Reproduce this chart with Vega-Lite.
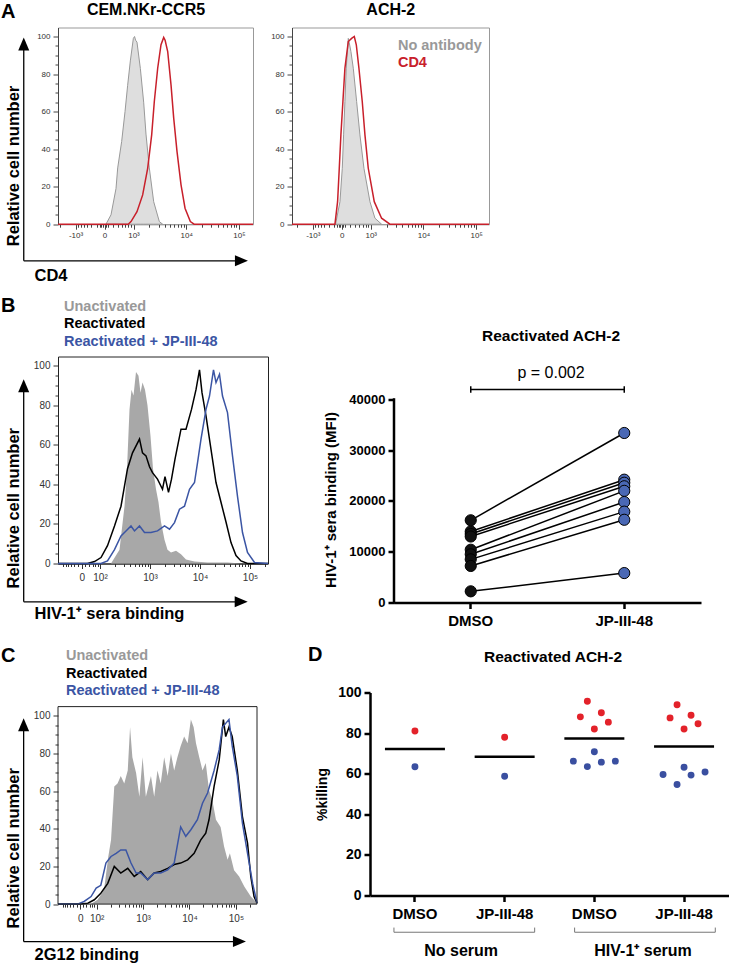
{
  "$schema": "https://vega.github.io/schema/vega-lite/v6.json",
  "padding": {"left": 0, "top": 0.5, "right": 0, "bottom": 0},
  "config": {
    "font": "Liberation Sans",
    "view": {"stroke": null},
    "axis": {"grid": false}
  },
  "datasets": {
    "a1_neg": [{"u":2.478,"n":0},{"u":2.573,"n":5},{"u":2.668,"n":19},{"u":2.70,"n":30},{"u":2.775,"n":44},{"u":2.839,"n":60},{"u":2.889,"n":74},{"u":2.94,"n":87},{"u":2.997,"n":99},{"u":3.02,"n":100},{"u":3.04,"n":98},{"u":3.066,"n":97},{"u":3.13,"n":83},{"u":3.193,"n":65},{"u":3.237,"n":48},{"u":3.30,"n":30},{"u":3.383,"n":12},{"u":3.49,"n":1.4},{"u":3.553,"n":0}],
    "a1_cd4": [{"u":1.567,"n":0},{"u":2.90,"n":0},{"u":2.953,"n":1.4},{"u":3.066,"n":6.7},{"u":3.174,"n":15.6},{"u":3.269,"n":29.8},{"u":3.345,"n":47.6},{"u":3.395,"n":65.4},{"u":3.459,"n":83.1},{"u":3.522,"n":95.6},{"u":3.573,"n":99.5},{"u":3.60,"n":98},{"u":3.649,"n":92},{"u":3.712,"n":74.2},{"u":3.763,"n":56.5},{"u":3.826,"n":38.7},{"u":3.902,"n":21},{"u":3.978,"n":8.5},{"u":4.079,"n":1.4},{"u":4.15,"n":0},{"u":5.268,"n":0}],
    "a2_neg": [{"u":2.333,"n":0},{"u":2.416,"n":12},{"u":2.46,"n":29.8},{"u":2.485,"n":47.6},{"u":2.51,"n":65.4},{"u":2.535,"n":83.1},{"u":2.574,"n":99},{"u":2.59,"n":97},{"u":2.624,"n":92},{"u":2.669,"n":83.1},{"u":2.732,"n":65.4},{"u":2.795,"n":47.6},{"u":2.871,"n":29.8},{"u":2.985,"n":12},{"u":3.08,"n":3.2},{"u":3.206,"n":0}],
    "a2_cd4": [{"u":1.506,"n":0},{"u":2.321,"n":0},{"u":2.371,"n":12},{"u":2.403,"n":29.8},{"u":2.434,"n":47.6},{"u":2.472,"n":65.4},{"u":2.51,"n":83.1},{"u":2.574,"n":97.3},{"u":2.637,"n":99},{"u":2.688,"n":100},{"u":2.726,"n":95.6},{"u":2.776,"n":83.1},{"u":2.839,"n":65.4},{"u":2.89,"n":47.6},{"u":2.953,"n":29.8},{"u":3.067,"n":12},{"u":3.206,"n":3.2},{"u":3.364,"n":0},{"u":5.244,"n":0}],
    "b_unact": [{"u":2.22,"n":0},{"u":2.39,"n":7},{"u":2.49,"n":29},{"u":2.54,"n":48},{"u":2.59,"n":78},{"u":2.63,"n":88},{"u":2.67,"n":85},{"u":2.72,"n":97},{"u":2.77,"n":95},{"u":2.81,"n":86.5},{"u":2.85,"n":91.6},{"u":2.90,"n":88},{"u":2.95,"n":80},{"u":3.01,"n":64.6},{"u":3.06,"n":48},{"u":3.12,"n":37.6},{"u":3.17,"n":31},{"u":3.22,"n":21},{"u":3.29,"n":12},{"u":3.35,"n":7},{"u":3.42,"n":5.6},{"u":3.52,"n":6.4},{"u":3.62,"n":4.7},{"u":3.72,"n":2},{"u":3.89,"n":1},{"u":4.15,"n":0.5},{"u":4.55,"n":0.5},{"u":4.82,"n":0}],
    "b_react": [{"u":1.16,"n":0},{"u":1.75,"n":0},{"u":1.89,"n":1},{"u":2.02,"n":3},{"u":2.15,"n":9},{"u":2.29,"n":19},{"u":2.42,"n":29},{"u":2.55,"n":48},{"u":2.65,"n":56},{"u":2.79,"n":63},{"u":2.85,"n":56},{"u":2.92,"n":54.5},{"u":2.99,"n":49},{"u":3.05,"n":46},{"u":3.15,"n":42.7},{"u":3.25,"n":37.6},{"u":3.30,"n":44},{"u":3.37,"n":36},{"u":3.43,"n":42.7},{"u":3.50,"n":52.8},{"u":3.62,"n":68},{"u":3.72,"n":68},{"u":3.83,"n":78},{"u":3.92,"n":88},{"u":3.99,"n":98},{"u":4.04,"n":86.5},{"u":4.12,"n":74.7},{"u":4.22,"n":57.8},{"u":4.32,"n":41},{"u":4.42,"n":31},{"u":4.52,"n":21},{"u":4.62,"n":10.6},{"u":4.72,"n":4},{"u":4.82,"n":1.3},{"u":4.95,"n":0},{"u":5.36,"n":0}],
    "b_jp": [{"u":1.16,"n":0},{"u":2.02,"n":0},{"u":2.15,"n":1.3},{"u":2.29,"n":7},{"u":2.42,"n":14},{"u":2.52,"n":16.5},{"u":2.62,"n":19},{"u":2.69,"n":16.5},{"u":2.79,"n":19},{"u":2.89,"n":15.7},{"u":3.02,"n":15.7},{"u":3.15,"n":16.5},{"u":3.29,"n":19},{"u":3.39,"n":17.4},{"u":3.49,"n":20.7},{"u":3.59,"n":27.5},{"u":3.69,"n":29},{"u":3.79,"n":37.6},{"u":3.89,"n":41},{"u":3.95,"n":51},{"u":4.02,"n":63},{"u":4.12,"n":78},{"u":4.19,"n":84.8},{"u":4.27,"n":98},{"u":4.32,"n":91.6},{"u":4.39,"n":95.8},{"u":4.45,"n":84.8},{"u":4.55,"n":76.4},{"u":4.65,"n":54.5},{"u":4.75,"n":34},{"u":4.85,"n":15.7},{"u":4.95,"n":5.6},{"u":5.09,"n":0.5},{"u":5.36,"n":0}],
    "c_unact": [{"u":1.88,"n":0},{"u":2.02,"n":2.3},{"u":2.16,"n":7.6},{"u":2.25,"n":25},{"u":2.31,"n":34},{"u":2.38,"n":62.5},{"u":2.45,"n":64},{"u":2.52,"n":68},{"u":2.595,"n":64},{"u":2.67,"n":71},{"u":2.72,"n":94},{"u":2.77,"n":78},{"u":2.85,"n":69.6},{"u":2.92,"n":57},{"u":2.99,"n":78},{"u":3.06,"n":57},{"u":3.17,"n":68},{"u":3.24,"n":57},{"u":3.31,"n":71},{"u":3.38,"n":64},{"u":3.455,"n":78},{"u":3.53,"n":68},{"u":3.60,"n":80},{"u":3.67,"n":71},{"u":3.74,"n":78},{"u":3.81,"n":84},{"u":3.885,"n":89},{"u":3.96,"n":85.5},{"u":4.03,"n":98},{"u":4.09,"n":94},{"u":4.14,"n":85.5},{"u":4.21,"n":78},{"u":4.28,"n":71},{"u":4.35,"n":75},{"u":4.42,"n":60.7},{"u":4.49,"n":55.4},{"u":4.57,"n":44.8},{"u":4.67,"n":41},{"u":4.745,"n":30.6},{"u":4.82,"n":23.5},{"u":4.87,"n":27},{"u":4.96,"n":18},{"u":5.07,"n":14.7},{"u":5.18,"n":9.4},{"u":5.32,"n":4},{"u":5.454,"n":0.5}],
    "c_react": [{"u":1.168,"n":0},{"u":1.66,"n":0},{"u":1.81,"n":0.5},{"u":1.95,"n":2.3},{"u":2.09,"n":5.8},{"u":2.24,"n":11},{"u":2.38,"n":20},{"u":2.52,"n":16.5},{"u":2.67,"n":19},{"u":2.81,"n":14.7},{"u":2.95,"n":17.3},{"u":3.10,"n":13},{"u":3.24,"n":16.5},{"u":3.38,"n":17.3},{"u":3.53,"n":19},{"u":3.67,"n":21},{"u":3.81,"n":21.8},{"u":3.96,"n":23.5},{"u":4.10,"n":27},{"u":4.24,"n":34},{"u":4.35,"n":37.7},{"u":4.42,"n":44.8},{"u":4.53,"n":62.5},{"u":4.64,"n":76.6},{"u":4.73,"n":98},{"u":4.78,"n":89},{"u":4.85,"n":94},{"u":4.92,"n":89},{"u":5.03,"n":71},{"u":5.14,"n":46.5},{"u":5.25,"n":32.4},{"u":5.32,"n":14.7},{"u":5.39,"n":4},{"u":5.454,"n":0.5}],
    "c_jp": [{"u":1.168,"n":0},{"u":1.59,"n":0},{"u":1.73,"n":1.4},{"u":1.88,"n":4},{"u":1.99,"n":8.5},{"u":2.09,"n":10},{"u":2.20,"n":21.8},{"u":2.31,"n":25.3},{"u":2.42,"n":27},{"u":2.52,"n":28.8},{"u":2.63,"n":28.8},{"u":2.74,"n":21.8},{"u":2.85,"n":16.5},{"u":2.95,"n":16.5},{"u":3.10,"n":13},{"u":3.24,"n":16.5},{"u":3.38,"n":16.5},{"u":3.53,"n":18.2},{"u":3.67,"n":21.8},{"u":3.81,"n":41},{"u":3.92,"n":36},{"u":4.03,"n":39.5},{"u":4.17,"n":44.8},{"u":4.28,"n":53.6},{"u":4.39,"n":59},{"u":4.53,"n":71},{"u":4.64,"n":82},{"u":4.71,"n":94},{"u":4.78,"n":96},{"u":4.85,"n":98},{"u":4.92,"n":84},{"u":5.03,"n":68},{"u":5.14,"n":43},{"u":5.25,"n":27},{"u":5.36,"n":11},{"u":5.454,"n":0.5}],
    "mfi": [
      {"donor":1,"treatment":"DMSO","mfi":16200},{"donor":1,"treatment":"JP-III-48","mfi":33400},
      {"donor":2,"treatment":"DMSO","mfi":14000},{"donor":2,"treatment":"JP-III-48","mfi":24200},
      {"donor":3,"treatment":"DMSO","mfi":13500},{"donor":3,"treatment":"JP-III-48","mfi":23600},
      {"donor":4,"treatment":"DMSO","mfi":13000},{"donor":4,"treatment":"JP-III-48","mfi":22900},
      {"donor":5,"treatment":"DMSO","mfi":10400},{"donor":5,"treatment":"JP-III-48","mfi":22000},
      {"donor":6,"treatment":"DMSO","mfi":9500},{"donor":6,"treatment":"JP-III-48","mfi":19800},
      {"donor":7,"treatment":"DMSO","mfi":8500},{"donor":7,"treatment":"JP-III-48","mfi":17900},
      {"donor":8,"treatment":"DMSO","mfi":7200},{"donor":8,"treatment":"JP-III-48","mfi":16300},
      {"donor":9,"treatment":"DMSO","mfi":2200},{"donor":9,"treatment":"JP-III-48","mfi":5800}
    ],
    "killing": [
      {"condition":"No serum|DMSO","series":"1","slot":0,"killing":81},
      {"condition":"No serum|DMSO","series":"2","slot":0,"killing":63.4},
      {"condition":"No serum|JP-III-48","series":"1","slot":0,"killing":78},
      {"condition":"No serum|JP-III-48","series":"2","slot":0,"killing":58.7},
      {"condition":"HIV-1⁺ serum|DMSO","series":"1","slot":-1,"killing":95.7},
      {"condition":"HIV-1⁺ serum|DMSO","series":"1","slot":-2,"killing":88},
      {"condition":"HIV-1⁺ serum|DMSO","series":"1","slot":1,"killing":90},
      {"condition":"HIV-1⁺ serum|DMSO","series":"1","slot":2,"killing":85.4},
      {"condition":"HIV-1⁺ serum|DMSO","series":"1","slot":0,"killing":82},
      {"condition":"HIV-1⁺ serum|DMSO","series":"2","slot":0,"killing":70.8},
      {"condition":"HIV-1⁺ serum|DMSO","series":"2","slot":-3,"killing":66.2},
      {"condition":"HIV-1⁺ serum|DMSO","series":"2","slot":-1,"killing":63.5},
      {"condition":"HIV-1⁺ serum|DMSO","series":"2","slot":1,"killing":65.7},
      {"condition":"HIV-1⁺ serum|DMSO","series":"2","slot":3,"killing":66.2},
      {"condition":"HIV-1⁺ serum|JP-III-48","series":"1","slot":-1,"killing":94},
      {"condition":"HIV-1⁺ serum|JP-III-48","series":"1","slot":-2,"killing":87.5},
      {"condition":"HIV-1⁺ serum|JP-III-48","series":"1","slot":1,"killing":88.8},
      {"condition":"HIV-1⁺ serum|JP-III-48","series":"1","slot":2,"killing":84.6},
      {"condition":"HIV-1⁺ serum|JP-III-48","series":"1","slot":0,"killing":82},
      {"condition":"HIV-1⁺ serum|JP-III-48","series":"2","slot":0,"killing":63.2},
      {"condition":"HIV-1⁺ serum|JP-III-48","series":"2","slot":-3,"killing":59.6},
      {"condition":"HIV-1⁺ serum|JP-III-48","series":"2","slot":1,"killing":59.3},
      {"condition":"HIV-1⁺ serum|JP-III-48","series":"2","slot":3,"killing":60.8},
      {"condition":"HIV-1⁺ serum|JP-III-48","series":"2","slot":-1,"killing":54.7}
    ]
  },
  "spacing": 16,
  "vconcat": [
    {
      "spacing": 10,
      "vconcat": [
        {
          "spacing": 13,
          "hconcat": [
            {
              "width": 195, "height": 196.7,
              "view": {"stroke": "#999", "strokeWidth": 1},
              "resolve": {"axis": {"x": "independent", "y": "independent"}},
              "layer": [
                {
                  "data": {"name": "a1_neg"},
                  "mark": {"type": "area", "fill": "#dedede", "stroke": "#999", "strokeWidth": 1},
                  "encoding": {
                    "x": {"field": "u", "type": "quantitative", "scale": {"domain": [1.567, 5.268], "nice": false, "zero": false},
                      "axis": {"orient": "bottom", "values": [1.9, 2.45, 3, 4, 5],
                        "labelExpr": "datum.value == 1.9 ? '-10³' : datum.value == 2.45 ? '0' : datum.value == 3 ? '10³' : datum.value == 4 ? '10⁴' : '10⁵'",
                        "tickSize": 5, "labelFontSize": 8, "labelColor": "#333", "labelPadding": 2, "labelOverlap": false, "labelFlush": false,
                        "tickColor": "#444", "domainColor": "#999",
                        "title": "CD4", "titleFontSize": 16.5, "titleFontWeight": "bold", "titleColor": "black",
                        "titleX": -24, "titleY": 56.6, "titleAlign": "left", "titleBaseline": "alphabetic", "titleAnchor": "start"}},
                    "y": {"field": "n", "type": "quantitative", "scale": {"domain": [0, 104.8], "nice": false},
                      "axis": {"orient": "left", "values": [0, 20, 40, 60, 80, 100],
                        "tickSize": 5, "labelFontSize": 8, "labelColor": "#333", "labelPadding": 3, "labelOverlap": false,
                        "tickColor": "#444", "domainColor": "#444",
                        "title": "Relative cell number", "titleFontSize": 16.5, "titleFontWeight": "bold", "titleColor": "black",
                        "titleX": -39.5, "titleY": 138, "titleAlign": "center", "titleBaseline": "alphabetic", "titleAngle": 270}}
                  }
                },
                {
                  "data": {"name": "a1_cd4"},
                  "mark": {"type": "line", "color": "#c8202b", "strokeWidth": 1.5},
                  "encoding": {"x": {"field": "u", "type": "quantitative", "axis": null}, "y": {"field": "n", "type": "quantitative", "axis": null}}
                },
                {
                  "data": {"values": [{}]},
                  "mark": {"type": "rule", "color": "black", "strokeWidth": 1.3},
                  "encoding": {
                    "x": {"datum": 0.917, "type": "quantitative",
                      "axis": {"orient": "bottom", "values": [1.6,1.946,1.997,2.055,2.122,2.201,2.298,2.36,2.39,2.42,2.48,2.51,2.602,2.699,2.778,2.845,2.903,2.954,3.301,3.477,3.602,3.699,3.778,3.845,3.903,3.954,4.301,4.477,4.602,4.699,4.778,4.845,4.903,4.954],
                        "labels": false, "domain": false, "tickSize": 3, "tickColor": "#444", "title": null}},
                    "y": {"datum": -19.5, "type": "quantitative",
                      "axis": {"orient": "left", "values": [5,10,15,25,30,35,45,50,55,65,70,75,85,90,95],
                        "labels": false, "domain": false, "tickSize": 3, "tickColor": "#444", "title": null}},
                    "y2": {"datum": 95}}
                },
                {
                  "data": {"values": [{}]},
                  "mark": {"type": "rule", "color": "black", "strokeWidth": 1.3},
                  "encoding": {"x": {"datum": 0.917, "type": "quantitative", "axis": null}, "x2": {"datum": 5.0}, "y": {"datum": -19.5, "type": "quantitative", "axis": null}}
                },
                {
                  "data": {"values": [{}]},
                  "mark": {"type": "point", "shape": "M0,-1L0.85,1L-0.85,1Z", "filled": true, "size": 169, "color": "black", "opacity": 1},
                  "encoding": {"x": {"datum": 0.917, "type": "quantitative", "axis": null}, "y": {"datum": 96, "type": "quantitative", "axis": null}}
                },
                {
                  "data": {"values": [{}]},
                  "mark": {"type": "point", "shape": "M1,0L-1,0.85L-1,-0.85Z", "filled": true, "size": 169, "color": "black", "opacity": 1},
                  "encoding": {"x": {"datum": 5.049, "type": "quantitative", "axis": null}, "y": {"datum": -19.5, "type": "quantitative", "axis": null}}
                },
                {
                  "data": {"values": [{}]},
                  "mark": {"type": "text", "text": "A", "fontSize": 20, "fontWeight": "bold", "align": "left", "baseline": "alphabetic", "color": "black"},
                  "encoding": {"x": {"datum": 0.486, "type": "quantitative", "axis": null}, "y": {"datum": 109.7, "type": "quantitative", "axis": null}}
                },
                {
                  "data": {"values": [{}]},
                  "mark": {"type": "text", "text": "CEM.NKr-CCR5", "fontSize": 16, "fontWeight": "bold", "align": "center", "baseline": "alphabetic", "color": "black"},
                  "encoding": {"x": {"datum": 3.237, "type": "quantitative", "axis": null}, "y": {"datum": 111.5, "type": "quantitative", "axis": null}}
                }
              ]
            },
            {
              "width": 197, "height": 196.7,
              "view": {"stroke": "#999", "strokeWidth": 1},
              "resolve": {"axis": {"x": "independent", "y": "independent"}},
              "layer": [
                {
                  "data": {"name": "a2_neg"},
                  "mark": {"type": "area", "fill": "#dedede", "stroke": "#999", "strokeWidth": 1},
                  "encoding": {
                    "x": {"field": "u", "type": "quantitative", "scale": {"domain": [1.506, 5.244], "nice": false, "zero": false},
                      "axis": {"orient": "bottom", "values": [1.9, 2.45, 3, 4, 5],
                        "labelExpr": "datum.value == 1.9 ? '-10³' : datum.value == 2.45 ? '0' : datum.value == 3 ? '10³' : datum.value == 4 ? '10⁴' : '10⁵'",
                        "tickSize": 5, "labelFontSize": 8, "labelColor": "#333", "labelPadding": 2, "labelOverlap": false, "labelFlush": false,
                        "tickColor": "#444", "domainColor": "#999", "title": null}},
                    "y": {"field": "n", "type": "quantitative", "scale": {"domain": [0, 104.8], "nice": false},
                      "axis": {"orient": "left", "values": [0, 20, 40, 60, 80, 100],
                        "tickSize": 5, "labelFontSize": 8, "labelColor": "#333", "labelPadding": 3, "labelOverlap": false,
                        "tickColor": "#444", "domainColor": "#444", "title": null}}
                  }
                },
                {
                  "data": {"name": "a2_cd4"},
                  "mark": {"type": "line", "color": "#c8202b", "strokeWidth": 1.5},
                  "encoding": {"x": {"field": "u", "type": "quantitative", "axis": null}, "y": {"field": "n", "type": "quantitative", "axis": null}}
                },
                {
                  "data": {"values": [{}]},
                  "mark": {"type": "text", "text": "ACH-2", "fontSize": 16, "fontWeight": "bold", "align": "center", "baseline": "alphabetic", "color": "black"},
                  "encoding": {
                    "x": {"datum": 3.38, "type": "quantitative",
                      "axis": {"orient": "bottom", "values": [1.6,1.946,1.997,2.055,2.122,2.201,2.298,2.36,2.39,2.42,2.48,2.51,2.602,2.699,2.778,2.845,2.903,2.954,3.301,3.477,3.602,3.699,3.778,3.845,3.903,3.954,4.301,4.477,4.602,4.699,4.778,4.845,4.903,4.954],
                        "labels": false, "domain": false, "tickSize": 3, "tickColor": "#444", "title": null}},
                    "y": {"datum": 111.5, "type": "quantitative",
                      "axis": {"orient": "left", "values": [5,10,15,25,30,35,45,50,55,65,70,75,85,90,95],
                        "labels": false, "domain": false, "tickSize": 3, "tickColor": "#444", "title": null}}}
                },
                {
                  "data": {"values": [{}]},
                  "mark": {"type": "text", "text": "No antibody", "fontSize": 14.5, "fontWeight": "bold", "align": "left", "baseline": "alphabetic", "color": "#999999"},
                  "encoding": {"x": {"datum": 3.516, "type": "quantitative", "axis": null}, "y": {"datum": 92.9, "type": "quantitative", "axis": null}}
                },
                {
                  "data": {"values": [{}]},
                  "mark": {"type": "text", "text": "CD4", "fontSize": 14.5, "fontWeight": "bold", "align": "left", "baseline": "alphabetic", "color": "#c8202b"},
                  "encoding": {"x": {"datum": 3.516, "type": "quantitative", "axis": null}, "y": {"datum": 83.7, "type": "quantitative", "axis": null}}
                }
              ]
            }
          ]
        },
        {
          "spacing": 51,
          "hconcat": [
            {
              "width": 210, "height": 207,
              "view": {"stroke": "#222", "strokeWidth": 1},
              "resolve": {"axis": {"x": "independent", "y": "independent"}},
              "layer": [
                {
                  "data": {"name": "b_unact"},
                  "mark": {"type": "area", "fill": "#a8a8a8", "stroke": null},
                  "encoding": {
                    "x": {"field": "u", "type": "quantitative", "scale": {"domain": [1.16, 5.36], "nice": false, "zero": false},
                      "axis": {"orient": "bottom", "values": [1.634, 2, 3, 4, 5],
                        "labelExpr": "datum.value == 1.634 ? '0' : datum.value == 2 ? '10²' : datum.value == 3 ? '10³' : datum.value == 4 ? '10⁴' : '10⁵'",
                        "tickSize": 5, "labelFontSize": 10, "labelColor": "#333", "labelPadding": 4, "labelOverlap": false, "labelFlush": false,
                        "tickColor": "#333", "domainColor": "#222",
                        "title": "HIV-1⁺ sera binding", "titleFontSize": 16.5, "titleFontWeight": "bold", "titleColor": "black",
                        "titleX": -24, "titleY": 54.7, "titleAlign": "left", "titleBaseline": "alphabetic", "titleAnchor": "start"}},
                    "y": {"field": "n", "type": "quantitative", "scale": {"domain": [0, 104.8], "nice": false},
                      "axis": {"orient": "left", "values": [0, 20, 40, 60, 80, 100],
                        "tickSize": 5, "labelFontSize": 10, "labelColor": "#333", "labelPadding": 3, "labelOverlap": false,
                        "tickColor": "#333", "domainColor": "#222",
                        "title": "Relative cell number", "titleFontSize": 16.5, "titleFontWeight": "bold", "titleColor": "black",
                        "titleX": -39.5, "titleY": 151.2, "titleAlign": "center", "titleBaseline": "alphabetic", "titleAngle": 270}}
                  }
                },
                {
                  "data": {"name": "b_react"},
                  "mark": {"type": "line", "color": "black", "strokeWidth": 1.5},
                  "encoding": {"x": {"field": "u", "type": "quantitative", "axis": null}, "y": {"field": "n", "type": "quantitative", "axis": null}}
                },
                {
                  "data": {"name": "b_jp"},
                  "mark": {"type": "line", "color": "#3b55a4", "strokeWidth": 1.5},
                  "encoding": {"x": {"field": "u", "type": "quantitative", "axis": null}, "y": {"field": "n", "type": "quantitative", "axis": null}}
                },
                {
                  "data": {"values": [{}]},
                  "mark": {"type": "rule", "color": "black", "strokeWidth": 1.3},
                  "encoding": {
                    "x": {"datum": 0.474, "type": "quantitative",
                      "axis": {"orient": "bottom", "values": [1.26,1.31,1.36,1.41,1.48,1.56,1.70,1.78,1.85,1.90,1.95,2.301,2.477,2.602,2.699,2.778,2.845,2.903,2.954,3.301,3.477,3.602,3.699,3.778,3.845,3.903,3.954,4.301,4.477,4.602,4.699,4.778,4.845,4.903,4.954,5.301],
                        "labels": false, "domain": false, "tickSize": 3, "tickColor": "#333", "title": null}},
                    "y": {"datum": -19.4, "type": "quantitative",
                      "axis": {"orient": "left", "values": [5,10,15,25,30,35,45,50,55,65,70,75,85,90,95],
                        "labels": false, "domain": false, "tickSize": 3, "tickColor": "#333", "title": null}},
                    "y2": {"datum": 89}}
                },
                {
                  "data": {"values": [{}]},
                  "mark": {"type": "rule", "color": "black", "strokeWidth": 1.3},
                  "encoding": {"x": {"datum": 0.474, "type": "quantitative", "axis": null}, "x2": {"datum": 4.78}, "y": {"datum": -19.4, "type": "quantitative", "axis": null}}
                },
                {
                  "data": {"values": [{}]},
                  "mark": {"type": "point", "shape": "M0,-1L0.85,1L-0.85,1Z", "filled": true, "size": 169, "color": "black", "opacity": 1},
                  "encoding": {"x": {"datum": 0.474, "type": "quantitative", "axis": null}, "y": {"datum": 90, "type": "quantitative", "axis": null}}
                },
                {
                  "data": {"values": [{}]},
                  "mark": {"type": "point", "shape": "M1,0L-1,0.85L-1,-0.85Z", "filled": true, "size": 169, "color": "black", "opacity": 1},
                  "encoding": {"x": {"datum": 4.824, "type": "quantitative", "axis": null}, "y": {"datum": -19.4, "type": "quantitative", "axis": null}}
                },
                {
                  "data": {"values": [{}]},
                  "mark": {"type": "text", "text": "B", "fontSize": 20, "fontWeight": "bold", "align": "left", "baseline": "alphabetic", "color": "black"},
                  "encoding": {"x": {"datum": 0.02, "type": "quantitative", "axis": null}, "y": {"datum": 127.1, "type": "quantitative", "axis": null}}
                },
                {
                  "data": {"values": [{}]},
                  "mark": {"type": "text", "text": "Unactivated", "fontSize": 14.5, "fontWeight": "bold", "align": "left", "baseline": "alphabetic", "color": "#999999"},
                  "encoding": {"x": {"datum": 1.28, "type": "quantitative", "axis": null}, "y": {"datum": 128, "type": "quantitative", "axis": null}}
                },
                {
                  "data": {"values": [{}]},
                  "mark": {"type": "text", "text": "Reactivated", "fontSize": 14.5, "fontWeight": "bold", "align": "left", "baseline": "alphabetic", "color": "black"},
                  "encoding": {"x": {"datum": 1.28, "type": "quantitative", "axis": null}, "y": {"datum": 119.1, "type": "quantitative", "axis": null}}
                },
                {
                  "data": {"values": [{}]},
                  "mark": {"type": "text", "text": "Reactivated + JP-III-48", "fontSize": 14.5, "fontWeight": "bold", "align": "left", "baseline": "alphabetic", "color": "#3b55a4"},
                  "encoding": {"x": {"datum": 1.28, "type": "quantitative", "axis": null}, "y": {"datum": 110, "type": "quantitative", "axis": null}}
                }
              ]
            },
            {
              "width": 307, "height": 246,
              "layer": [
                {
                  "data": {"values": [{}]},
                  "mark": {"type": "rule", "color": "black", "strokeWidth": 2.5, "strokeCap": "square"},
                  "encoding": {
                    "x": {"datum": "DMSO", "type": "nominal", "bandPosition": 0,
                      "scale": {"type": "band", "domain": ["DMSO", "JP-III-48"], "paddingInner": 0, "paddingOuter": 0},
                      "axis": {"title": null, "labelAngle": 0, "labelFontSize": 15, "labelFontWeight": "bold", "labelColor": "black", "labelPadding": 5,
                        "tickSize": 6, "tickWidth": 2.5, "tickColor": "black", "domainWidth": 2.5, "domainColor": "black"}},
                    "y": {"datum": 0, "type": "quantitative",
                      "scale": {"domain": [0, 48470], "nice": false},
                      "axis": {"values": [0, 10000, 20000, 30000, 40000], "format": "d", "domain": false,
                        "tickSize": 6, "tickWidth": 2.5, "tickColor": "black",
                        "labelFontSize": 13, "labelFontWeight": "bold", "labelColor": "black", "labelPadding": 3,
                        "title": "HIV-1⁺ sera binding (MFI)", "titleFontSize": 15, "titleFontWeight": "bold", "titleColor": "black",
                        "titlePadding": 10, "titleY": 143}},
                    "y2": {"datum": 40000}
                  }
                },
                {
                  "data": {"name": "mfi"},
                  "mark": {"type": "line", "color": "black", "strokeWidth": 1.5},
                  "encoding": {
                    "x": {"field": "treatment", "type": "nominal"},
                    "y": {"field": "mfi", "type": "quantitative"},
                    "detail": {"field": "donor", "type": "nominal"}
                  }
                },
                {
                  "data": {"name": "mfi"},
                  "mark": {"type": "circle", "size": 125, "stroke": "black", "strokeWidth": 1, "opacity": 1},
                  "encoding": {
                    "x": {"field": "treatment", "type": "nominal"},
                    "y": {"field": "mfi", "type": "quantitative"},
                    "fill": {"field": "treatment", "type": "nominal", "scale": {"domain": ["DMSO", "JP-III-48"], "range": ["#111111", "#4a68b5"]}, "legend": null}
                  }
                },
                {
                  "data": {"values": [{}]},
                  "mark": {"type": "rule", "color": "black", "strokeWidth": 1.5},
                  "encoding": {"x": {"datum": "DMSO", "type": "nominal", "bandPosition": 0.5}, "x2": {"datum": "JP-III-48", "bandPosition": 0.5}, "y": {"datum": 41970, "type": "quantitative"}}
                },
                {
                  "data": {"values": [{}]},
                  "mark": {"type": "rule", "color": "black", "strokeWidth": 1.5},
                  "encoding": {"x": {"datum": "DMSO", "type": "nominal", "bandPosition": 0.5}, "y": {"datum": 41320, "type": "quantitative"}, "y2": {"datum": 42620}}
                },
                {
                  "data": {"values": [{}]},
                  "mark": {"type": "rule", "color": "black", "strokeWidth": 1.5},
                  "encoding": {"x": {"datum": "JP-III-48", "type": "nominal", "bandPosition": 0.5}, "y": {"datum": 41320, "type": "quantitative"}, "y2": {"datum": 42620}}
                },
                {
                  "data": {"values": [{}]},
                  "mark": {"type": "text", "text": "p = 0.002", "fontSize": 16, "align": "center", "baseline": "alphabetic", "color": "black"},
                  "encoding": {"x": {"datum": "JP-III-48", "type": "nominal", "bandPosition": 0.023}, "y": {"datum": 44276, "type": "quantitative"}}
                },
                {
                  "data": {"values": [{}]},
                  "mark": {"type": "text", "text": "Reactivated ACH-2", "fontSize": 15.5, "fontWeight": "bold", "align": "center", "baseline": "alphabetic", "color": "black"},
                  "encoding": {"x": {"datum": "JP-III-48", "type": "nominal", "bandPosition": 0.023}, "y": {"datum": 51488, "type": "quantitative"}}
                }
              ]
            }
          ]
        }
      ]
    },
    {
      "spacing": 48,
      "hconcat": [
        {
          "width": 199, "height": 211.6,
          "resolve": {"axis": {"x": "independent", "y": "independent"}},
          "layer": [
            {
              "data": {"name": "c_unact"},
              "mark": {"type": "area", "fill": "#a8a8a8", "stroke": null},
              "encoding": {
                "x": {"field": "u", "type": "quantitative", "scale": {"domain": [1.168, 5.454], "nice": false, "zero": false},
                  "axis": {"orient": "bottom", "values": [1.647, 2, 3, 4, 5],
                    "labelExpr": "datum.value == 1.647 ? '0' : datum.value == 2 ? '10²' : datum.value == 3 ? '10³' : datum.value == 4 ? '10⁴' : '10⁵'",
                    "tickSize": 5, "labelFontSize": 10, "labelColor": "#333", "labelPadding": 4, "labelOverlap": false, "labelFlush": false,
                    "tickColor": "#333", "domain": false,
                    "title": "2G12 binding", "titleFontSize": 16.5, "titleFontWeight": "bold", "titleColor": "black",
                    "titleX": -24, "titleY": 55.7, "titleAlign": "left", "titleBaseline": "alphabetic", "titleAnchor": "start"}},
                "y": {"field": "n", "type": "quantitative", "scale": {"domain": [0, 112.4], "nice": false},
                  "axis": {"orient": "left", "values": [0, 20, 40, 60, 80, 100],
                    "tickSize": 5, "labelFontSize": 10, "labelColor": "#333", "labelPadding": 3, "labelOverlap": false,
                    "tickColor": "#333", "domain": false,
                    "title": "Relative cell number", "titleFontSize": 16.5, "titleFontWeight": "bold", "titleColor": "black",
                    "titleX": -39.5, "titleY": 155.3, "titleAlign": "center", "titleBaseline": "alphabetic", "titleAngle": 270}}
              }
            },
            {
              "data": {"name": "c_react"},
              "mark": {"type": "line", "color": "black", "strokeWidth": 1.5},
              "encoding": {"x": {"field": "u", "type": "quantitative", "axis": null}, "y": {"field": "n", "type": "quantitative", "axis": null}}
            },
            {
              "data": {"name": "c_jp"},
              "mark": {"type": "line", "color": "#3b55a4", "strokeWidth": 1.5},
              "encoding": {"x": {"field": "u", "type": "quantitative", "axis": null}, "y": {"field": "n", "type": "quantitative", "axis": null}}
            },
            {
              "data": {"values": [{}]},
              "mark": {"type": "rect", "filled": false, "stroke": "#222", "strokeWidth": 1},
              "encoding": {"x": {"datum": 1.168, "type": "quantitative", "axis": null}, "x2": {"datum": 5.454}, "y": {"datum": 0, "type": "quantitative", "axis": null}, "y2": {"datum": 104.9}}
            },
            {
              "data": {"values": [{}]},
              "mark": {"type": "rule", "color": "black", "strokeWidth": 1.3},
              "encoding": {
                "x": {"datum": 0.428, "type": "quantitative",
                  "axis": {"orient": "bottom", "values": [1.27,1.32,1.37,1.42,1.49,1.57,1.70,1.78,1.85,1.90,1.95,2.301,2.477,2.602,2.699,2.778,2.845,2.903,2.954,3.301,3.477,3.602,3.699,3.778,3.845,3.903,3.954,4.301,4.477,4.602,4.699,4.778,4.845,4.903,4.954,5.301],
                    "labels": false, "domain": false, "tickSize": 3, "tickColor": "#333", "title": null}},
                "y": {"datum": -19.9, "type": "quantitative",
                  "axis": {"orient": "left", "values": [5,10,15,25,30,35,45,50,55,65,70,75,85,90,95],
                    "labels": false, "domain": false, "tickSize": 3, "tickColor": "#333", "title": null}},
                "y2": {"datum": 94}}
            },
            {
              "data": {"values": [{}]},
              "mark": {"type": "rule", "color": "black", "strokeWidth": 1.3},
              "encoding": {"x": {"datum": 0.428, "type": "quantitative", "axis": null}, "x2": {"datum": 5.03}, "y": {"datum": -19.9, "type": "quantitative", "axis": null}}
            },
            {
              "data": {"values": [{}]},
              "mark": {"type": "point", "shape": "M0,-1L0.85,1L-0.85,1Z", "filled": true, "size": 169, "color": "black", "opacity": 1},
              "encoding": {"x": {"datum": 0.428, "type": "quantitative", "axis": null}, "y": {"datum": 95.3, "type": "quantitative", "axis": null}}
            },
            {
              "data": {"values": [{}]},
              "mark": {"type": "point", "shape": "M1,0L-1,0.85L-1,-0.85Z", "filled": true, "size": 169, "color": "black", "opacity": 1},
              "encoding": {"x": {"datum": 5.076, "type": "quantitative", "axis": null}, "y": {"datum": -19.9, "type": "quantitative", "axis": null}}
            },
            {
              "data": {"values": [{}]},
              "mark": {"type": "text", "text": "C", "fontSize": 20, "fontWeight": "bold", "align": "left", "baseline": "alphabetic", "color": "black"},
              "encoding": {"x": {"datum": -0.061, "type": "quantitative", "axis": null}, "y": {"datum": 128.8, "type": "quantitative", "axis": null}}
            },
            {
              "data": {"values": [{}]},
              "mark": {"type": "text", "text": "Unactivated", "fontSize": 14.5, "fontWeight": "bold", "align": "left", "baseline": "alphabetic", "color": "#999999"},
              "encoding": {"x": {"datum": 1.339, "type": "quantitative", "axis": null}, "y": {"datum": 129.5, "type": "quantitative", "axis": null}}
            },
            {
              "data": {"values": [{}]},
              "mark": {"type": "text", "text": "Reactivated", "fontSize": 14.5, "fontWeight": "bold", "align": "left", "baseline": "alphabetic", "color": "black"},
              "encoding": {"x": {"datum": 1.339, "type": "quantitative", "axis": null}, "y": {"datum": 120, "type": "quantitative", "axis": null}}
            },
            {
              "data": {"values": [{}]},
              "mark": {"type": "text", "text": "Reactivated + JP-III-48", "fontSize": 14.5, "fontWeight": "bold", "align": "left", "baseline": "alphabetic", "color": "#3b55a4"},
              "encoding": {"x": {"datum": 1.339, "type": "quantitative", "axis": null}, "y": {"datum": 110.9, "type": "quantitative", "axis": null}}
            }
          ]
        },
        {
          "width": 359, "height": 203,
          "layer": [
            {
              "data": {"name": "killing"},
              "mark": {"type": "circle", "size": 48, "opacity": 1},
              "encoding": {
                "x": {"field": "condition", "type": "nominal",
                  "scale": {"type": "band", "domain": ["No serum|DMSO", "No serum|JP-III-48", "HIV-1⁺ serum|DMSO", "HIV-1⁺ serum|JP-III-48"], "paddingInner": 0.532, "paddingOuter": 0.267},
                  "axis": {"title": null, "labelExpr": "slice(datum.label, indexof(datum.label, '|') + 1)", "labelAngle": 0,
                    "labelFontSize": 15, "labelFontWeight": "bold", "labelColor": "black", "labelPadding": 5,
                    "tickSize": 6, "tickWidth": 2.5, "tickColor": "black", "domainWidth": 2.5, "domainColor": "black"}},
                "xOffset": {"field": "slot", "type": "ordinal", "scale": {"domain": [-3, -2, -1, 0, 1, 2, 3], "paddingInner": 0, "paddingOuter": 0}},
                "y": {"field": "killing", "type": "quantitative", "scale": {"domain": [0, 100], "nice": false},
                  "axis": {"values": [0, 20, 40, 60, 80, 100], "tickSize": 6, "tickWidth": 2.5, "tickColor": "black",
                    "domainWidth": 2.5, "domainColor": "black",
                    "labelFontSize": 14, "labelFontWeight": "bold", "labelColor": "black", "labelPadding": 3,
                    "title": "%killing", "titleFontSize": 14, "titleFontWeight": "bold", "titleColor": "black", "titlePadding": 8.5}},
                "color": {"field": "series", "type": "nominal", "scale": {"domain": ["1", "2"], "range": ["#e3222a", "#3a4fa0"]}, "legend": null}
              }
            },
            {
              "data": {"name": "killing"},
              "mark": {"type": "tick", "size": 60, "thickness": 2.5, "color": "black", "opacity": 1},
              "encoding": {
                "x": {"field": "condition", "type": "nominal"},
                "y": {"aggregate": "mean", "field": "killing", "type": "quantitative"}
              }
            },
            {
              "data": {"values": [{}]},
              "mark": {"type": "text", "text": "Reactivated ACH-2", "fontSize": 15.5, "fontWeight": "bold", "align": "center", "baseline": "alphabetic", "color": "black"},
              "encoding": {"x": {"datum": "HIV-1⁺ serum|DMSO", "type": "nominal", "bandPosition": -0.485}, "y": {"datum": 114.8, "type": "quantitative"}}
            },
            {
              "data": {"values": [{}]},
              "mark": {"type": "text", "text": "D", "fontSize": 20, "fontWeight": "bold", "align": "left", "baseline": "alphabetic", "color": "black"},
              "encoding": {"x": {"datum": "No serum|DMSO", "type": "nominal", "bandPosition": -2.046}, "y": {"datum": 115.4, "type": "quantitative"}}
            },
            {
              "data": {"values": [{}]},
              "mark": {"type": "rule", "color": "#777", "strokeWidth": 1},
              "encoding": {"x": {"datum": "No serum|DMSO", "type": "nominal", "bandPosition": 0}, "x2": {"datum": "No serum|JP-III-48", "bandPosition": 1.215}, "y": {"datum": -18.1, "type": "quantitative"}}
            },
            {
              "data": {"values": [{}]},
              "mark": {"type": "rule", "color": "#777", "strokeWidth": 1},
              "encoding": {"x": {"datum": "No serum|DMSO", "type": "nominal", "bandPosition": 0}, "y": {"datum": -18.1, "type": "quantitative"}, "y2": {"datum": -15.8}}
            },
            {
              "data": {"values": [{}]},
              "mark": {"type": "rule", "color": "#777", "strokeWidth": 1},
              "encoding": {"x": {"datum": "No serum|JP-III-48", "type": "nominal", "bandPosition": 1.215}, "y": {"datum": -18.1, "type": "quantitative"}, "y2": {"datum": -15.8}}
            },
            {
              "data": {"values": [{}]},
              "mark": {"type": "rule", "color": "#777", "strokeWidth": 1},
              "encoding": {"x": {"datum": "HIV-1⁺ serum|DMSO", "type": "nominal", "bandPosition": 0.03}, "x2": {"datum": "HIV-1⁺ serum|JP-III-48", "bandPosition": 1.244}, "y": {"datum": -18.1, "type": "quantitative"}}
            },
            {
              "data": {"values": [{}]},
              "mark": {"type": "rule", "color": "#777", "strokeWidth": 1},
              "encoding": {"x": {"datum": "HIV-1⁺ serum|DMSO", "type": "nominal", "bandPosition": 0.03}, "y": {"datum": -18.1, "type": "quantitative"}, "y2": {"datum": -15.8}}
            },
            {
              "data": {"values": [{}]},
              "mark": {"type": "rule", "color": "#777", "strokeWidth": 1},
              "encoding": {"x": {"datum": "HIV-1⁺ serum|JP-III-48", "type": "nominal", "bandPosition": 1.244}, "y": {"datum": -18.1, "type": "quantitative"}, "y2": {"datum": -15.8}}
            },
            {
              "data": {"values": [{}]},
              "mark": {"type": "text", "text": "No serum", "fontSize": 16, "fontWeight": "bold", "align": "center", "baseline": "alphabetic", "color": "black"},
              "encoding": {"x": {"datum": "No serum|DMSO", "type": "nominal", "bandPosition": 1.6}, "y": {"datum": -29.6, "type": "quantitative"}}
            },
            {
              "data": {"values": [{}]},
              "mark": {"type": "text", "text": "HIV-1⁺ serum", "fontSize": 16, "fontWeight": "bold", "align": "center", "baseline": "alphabetic", "color": "black"},
              "encoding": {"x": {"datum": "HIV-1⁺ serum|DMSO", "type": "nominal", "bandPosition": 1.66}, "y": {"datum": -29.6, "type": "quantitative"}}
            }
          ]
        }
      ]
    }
  ]
}
